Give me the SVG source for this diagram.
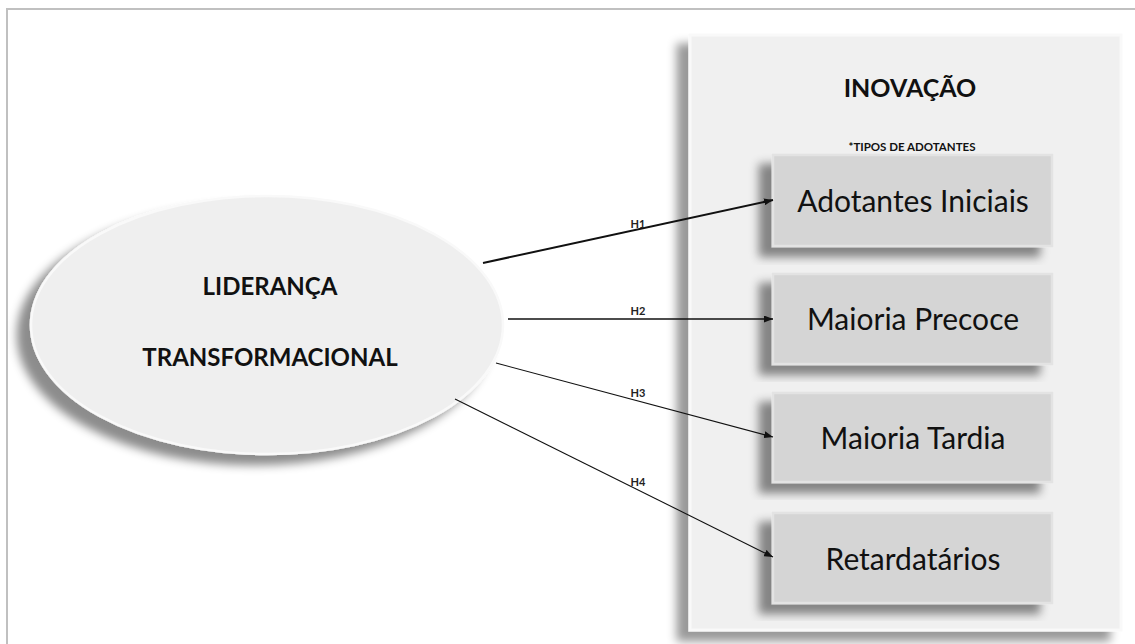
<svg xmlns="http://www.w3.org/2000/svg" width="1135" height="644" viewBox="0 0 1135 644">
<defs>
<style>
.box{fill:#d5d5d5;stroke:#e3e3e3;stroke-width:2.5}
.boxt{font-family:Lato,"Liberation Sans",sans-serif;font-size:30px;fill:#111;text-anchor:middle}
.bold{font-family:Lato,"Liberation Sans",sans-serif;font-weight:bold;fill:#111;text-anchor:middle}
.hl{font-family:Lato,"Liberation Sans",sans-serif;font-weight:bold;font-size:11px;fill:#222;text-anchor:middle}
.con{fill:none;stroke:#111}
</style>
<filter id="sh" x="-20%" y="-20%" width="140%" height="140%">
<feGaussianBlur in="SourceAlpha" stdDeviation="5"/>
<feOffset dx="-13" dy="10" result="o"/>
<feFlood flood-color="#000" flood-opacity="0.45"/>
<feComposite in2="o" operator="in"/>
<feMerge><feMergeNode/><feMergeNode in="SourceGraphic"/></feMerge>
</filter>
<filter id="shp" x="-10%" y="-10%" width="120%" height="120%">
<feGaussianBlur in="SourceAlpha" stdDeviation="5"/>
<feOffset dx="-12" dy="10" result="o"/>
<feFlood flood-color="#000" flood-opacity="0.4"/>
<feComposite in2="o" operator="in"/>
<feMerge><feMergeNode/><feMergeNode in="SourceGraphic"/></feMerge>
</filter>
<marker id="ar" markerUnits="userSpaceOnUse" markerWidth="9" markerHeight="7" refX="9" refY="3.5" orient="auto">
<path d="M0,0 L9,3.5 L0,7 z" fill="#111"/>
</marker>
</defs>
<rect x="0" y="0" width="1135" height="644" fill="#fff"/>
<rect x="7" y="9" width="1140" height="660" fill="#fff" stroke="#c0c0c0" stroke-width="2"/>

<g id="inovacao">
<rect x="690" y="35" width="431" height="595" fill="#f0f0f0" stroke="#f9f9f9" stroke-width="3" filter="url(#shp)"/>
<text class="bold" x="910" y="97" font-size="25">INOVAÇÃO</text>
<text class="bold" x="912" y="151" font-size="11.5">*TIPOS DE ADOTANTES</text>
</g>

<g id="lideranca">
<ellipse cx="267" cy="325" rx="236" ry="129" fill="#efefef" stroke="#f9f9f9" stroke-width="2.5" filter="url(#sh)"/>
<text class="bold" x="270" y="295" font-size="24">LIDERANÇA</text>
<text class="bold" x="270" y="366" font-size="24">TRANSFORMACIONAL</text>
</g>

<g id="adotantes-iniciais">
<rect class="box" x="773" y="155" width="279" height="91" filter="url(#sh)"/>
<text class="boxt" x="913" y="212">Adotantes Iniciais</text>
</g>
<g id="maioria-precoce">
<rect class="box" x="773" y="274" width="279" height="90" filter="url(#sh)"/>
<text class="boxt" x="913" y="330">Maioria Precoce</text>
</g>
<g id="maioria-tardia">
<rect class="box" x="773" y="393" width="279" height="89" filter="url(#sh)"/>
<text class="boxt" x="913" y="449">Maioria Tardia</text>
</g>
<g id="retardatarios">
<rect class="box" x="773" y="513" width="279" height="90" filter="url(#sh)"/>
<text class="boxt" x="913" y="570">Retardatários</text>
</g>

<g id="connectors">
<line class="con" x1="483" y1="263" x2="773" y2="200" stroke-width="2" marker-end="url(#ar)"/>
<line class="con" x1="508" y1="319" x2="773" y2="319" stroke-width="1.6" marker-end="url(#ar)"/>
<line class="con" x1="496" y1="363" x2="773" y2="437" stroke-width="1.1" marker-end="url(#ar)"/>
<line class="con" x1="455" y1="399" x2="773" y2="557" stroke-width="1.1" marker-end="url(#ar)"/>
<text class="hl" x="638" y="228">H1</text>
<text class="hl" x="638" y="315">H2</text>
<text class="hl" x="638" y="397">H3</text>
<text class="hl" x="638" y="486">H4</text>
</g>
</svg>
